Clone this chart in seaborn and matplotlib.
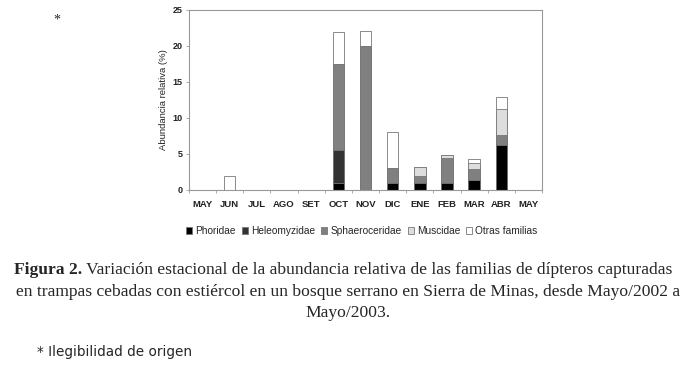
import matplotlib
matplotlib.use('Agg')
import matplotlib.pyplot as plt
import seaborn as sns
import pandas as pd
import numpy as np

months = ['MAY', 'JUN', 'JUL', 'AGO', 'SET', 'OCT', 'NOV', 'DIC', 'ENE', 'FEB', 'MAR', 'ABR', 'MAY']
families = ['Phoridae', 'Heleomyzidae', 'Sphaeroceridae', 'Muscidae', 'Otras familias']

phoridae       = [0, 0, 0, 0, 0, 1.0, 0,    1.0, 1.0, 1.0, 1.35, 6.2, 0]
heleomyzidae   = [0, 0, 0, 0, 0, 4.5, 0,    0,   0,   0,   0,    0,   0]
sphaeroceridae = [0, 0, 0, 0, 0, 12.0, 20.0, 2.05, 1.0, 3.5, 1.5, 1.45, 0]
muscidae       = [0, 0, 0, 0, 0, 0,   0,    0,   1.15, 0.3, 0.85, 3.65, 0]
otras          = [0, 1.9, 0, 0, 0, 4.5, 2.1, 4.95, 0,  0,   0.6, 1.6, 0]

colors = ['#000000', '#333333', '#808080', '#dddddd', '#ffffff']

df = pd.DataFrame({'pos': range(len(months)), 'Phoridae': phoridae,
                   'Heleomyzidae': heleomyzidae, 'Sphaeroceridae': sphaeroceridae,
                   'Muscidae': muscidae, 'Otras familias': otras})
cum = df[families].cumsum(axis=1)

sns.set_style('white')
fig = plt.figure(figsize=(6.96, 3.67), dpi=100)
ax = fig.add_axes([0.2716, 0.4823, 0.5071, 0.4905])

# draw stacks from the top layer down so the lower ones cover them
for fam, col in reversed(list(zip(families, colors))):
    sns.barplot(x=df['pos'], y=cum[fam], color=col, width=0.42, ax=ax,
                edgecolor='#777777', linewidth=0.6, saturation=1,
                label=fam)

handles, labels = ax.get_legend_handles_labels()
if ax.get_legend() is not None:
    ax.get_legend().remove()

lbl = dict(fontweight='bold', color='#222222', family='Liberation Sans')
ax.set_xlim(-0.5, len(months) - 0.5)
ax.set_ylim(0, 25)
ax.set_yticks([0, 5, 10, 15, 20, 25])
ax.set_xticks(range(len(months)))
ax.set_xticklabels(months, fontsize=6.8, **lbl)
ax.set_yticklabels([0, 5, 10, 15, 20, 25], fontsize=6.5, **lbl)
ax.set_xticks(np.arange(-0.5, len(months), 1), minor=True)
ax.tick_params(axis='x', which='major', length=0, pad=7)
ax.tick_params(axis='x', which='minor', length=2, width=0.5, color='#888888', direction='out')
ax.tick_params(axis='y', length=2.5, width=0.5, color='#888888', direction='out', pad=2)
ax.yaxis.set_ticks_position('left')
ax.xaxis.set_ticks_position('bottom')
ax.set_xlabel('')
ax.set_ylabel('Abundancia relativa (%)', fontsize=6.8, family='Liberation Sans',
              color='#222222', labelpad=3)
for s in ax.spines.values():
    s.set_color('#999999')
    s.set_linewidth(0.8)

order = [labels.index(f) for f in families]
fig.legend([handles[i] for i in order], families, loc='center',
           bbox_to_anchor=(362 / 696, 1 - 231 / 367), ncol=5, frameon=False,
           handlelength=0.6, handleheight=0.6, handletextpad=0.3,
           columnspacing=0.6, prop={'family': 'Liberation Sans', 'size': 7.3})

fig.text(57 / 696, 1 - 20 / 367, '*', fontsize=10, ha='center', va='center',
         family='Liberation Serif')

cap = dict(fontsize=12.6, family='Liberation Serif')
bold = fig.text(14 / 696, 1 - 270 / 367, 'Figura 2.', ha='left', va='center',
                fontweight='bold', **cap)
ax.annotate(' Variación estacional de la abundancia relativa de las familias de dípteros capturadas',
            xy=(1, 0), xycoords=bold, ha='left', va='bottom', **cap)
fig.text(0.5, 1 - 292 / 367,
         'en trampas cebadas con estiércol en un bosque serrano en Sierra de Minas, desde Mayo/2002 a',
         ha='center', va='center', **cap)
fig.text(0.5, 1 - 313 / 367, 'Mayo/2003.', ha='center', va='center', **cap)
fig.text(37 / 696, 1 - 352 / 367, '* Ilegibilidad de origen', ha='left',
         va='center', fontsize=9.8, family='DejaVu Sans')

fig.savefig('out.png', dpi=100)
